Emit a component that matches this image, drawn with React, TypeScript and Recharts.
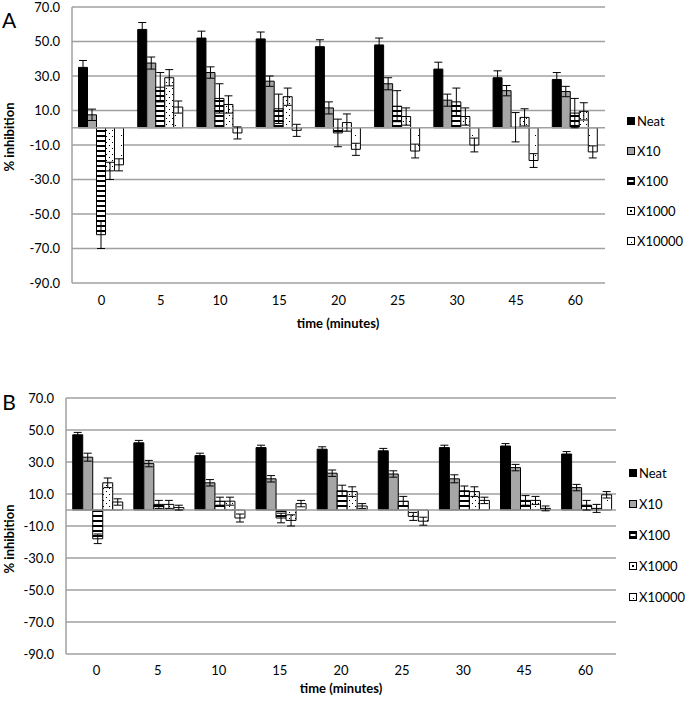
import React from 'react';
import { BarChart, Bar, XAxis, YAxis, CartesianGrid, ReferenceLine, ErrorBar } from 'recharts';

const times = ['0', '5', '10', '15', '20', '25', '30', '45', '60'];
const seriesNames = ['Neat', 'X10', 'X100', 'X1000', 'X10000'];
const yTicks = [-90, -70, -50, -30, -10, 10, 30, 50, 70];

// panel A values (% inhibition) and error
const neatA = [35, 57, 52, 51.5, 47, 48, 34, 29, 28];
const neatAErr = [4, 4, 4, 4, 4, 4, 4, 4, 4];
const x10A = [7.5, 37.5, 32, 27, 11.5, 25.5, 16, 21.5, 21];
const x10AErr = [3.3, 3.5, 3.3, 3, 3.5, 3.5, 3.5, 3, 3];
const x100A = [-62, 23.5, 17, 11, -3, 12.5, 15, 0.3, 8.5];
const x100AErr = [8, 8.5, 8.5, 8.5, 8, 9, 8, 8.5, 8.5];
const x1000A = [-25, 29, 13.5, 18, 3, 6.5, 6.5, 6, 9.5];
const x1000AErr = [5, 4.7, 5, 5, 5, 5, 5, 5, 5];
const x10000A = [-21.5, 12, -3, -1.5, -12.5, -13.5, -10, -19, -14];
const x10000AErr = [3.5, 3.5, 3.5, 3.5, 3.5, 4, 4, 4, 3.5];

// panel B
const neatB = [47, 42, 34, 39, 38, 37, 39, 40, 35];
const neatBErr = [1.5, 1.5, 1.5, 1.5, 1.5, 1.5, 1.5, 1.5, 1.5];
const x10B = [33, 29, 17, 19.5, 23, 22.5, 19.5, 26.5, 14];
const x10BErr = [2.5, 2, 2, 2, 2, 2, 2.5, 2, 2];
const x100B = [-18, 3.5, 5.5, -5, 12, 5.5, 12, 6, 3];
const x100BErr = [3, 2.5, 2.5, 3, 3.5, 3, 3, 3, 3];
const x1000B = [17, 3.5, 5.5, -6.5, 11.5, -4, 11.5, 6, 1];
const x1000BErr = [3, 2.5, 2.5, 3.5, 3, 2.5, 3, 2.5, 2.5];
const x10000B = [5, 1.5, -5, 4, 2.5, -7, 6, 1, 9.5];
const x10000BErr = [2, 1.5, 2.5, 2, 1.5, 2.5, 2, 1.5, 2];

const fills = ['#000', '#a6a6a6', 'url(#hstripe)', 'url(#dots)', 'url(#sparse)'];
const font = 'Lato, "Open Sans", sans-serif';

function buildRows(vals: number[][], errs: number[][]) {
  return times.map((t, i) => {
    const row: any = { time: t };
    seriesNames.forEach((name, s) => {
      row[name] = vals[s][i];
      row[name + 'Err'] = errs[s][i];
    });
    return row;
  });
}

const rowsA = buildRows([neatA, x10A, x100A, x1000A, x10000A], [neatAErr, x10AErr, x100AErr, x1000AErr, x10000AErr]);
const rowsB = buildRows([neatB, x10B, x100B, x1000B, x10000B], [neatBErr, x10BErr, x100BErr, x1000BErr, x10000BErr]);

const Patterns = () => (
  <svg width={0} height={0} style={{ position: 'absolute' }}>
    <defs>
      <pattern id="hstripe" width="6" height="5" patternUnits="userSpaceOnUse">
        <rect width="6" height="5" fill="#fff" />
        <rect width="6" height="2" fill="#000" />
      </pattern>
      <pattern id="dots" width="6" height="6" patternUnits="userSpaceOnUse">
        <rect width="6" height="6" fill="#fff" />
        <rect x="1" y="1" width="1" height="1" fill="#000" />
        <rect x="4" y="4" width="1" height="1" fill="#000" />
      </pattern>
      <pattern id="sparse" width="9" height="10" patternUnits="userSpaceOnUse">
        <rect width="9" height="10" fill="#fff" />
        <rect x="4" y="5" width="1" height="1" fill="#000" />
      </pattern>
    </defs>
  </svg>
);

const Swatch = ({ i }: { i: number }) => {
  if (i === 2) {
    return (
      <svg width={8} height={8} style={{ display: 'block' }}>
        <rect x={0.5} y={0.5} width={7} height={7} fill="#000" stroke="#000" />
        <rect x={1.5} y={3} width={5} height={2} fill="#fff" />
      </svg>
    );
  }
  return (
    <svg width={8} height={8} style={{ display: 'block' }}>
      <rect x={0.5} y={0.5} width={7} height={7} fill={i === 3 ? '#fff' : fills[i]} stroke="#000" />
      {i === 3 && <rect x={3} y={3} width={2} height={2} fill="#000" />}
    </svg>
  );
};

const Legend = ({ left, top, gap }: { left: number; top: number; gap: number }) => (
  <div style={{ position: 'absolute', left, top }}>
    {seriesNames.map((name, i) => (
      <div
        key={name}
        style={{ position: 'absolute', top: i * gap - 8, left: 0, display: 'flex', alignItems: 'center', height: 16, whiteSpace: 'nowrap' }}
      >
        <Swatch i={i} />
        <span style={{ marginLeft: 2, fontSize: 13, fontFamily: font, color: '#000' }}>{name}</span>
      </div>
    ))}
  </div>
);

const Txt = ({ x, y, children, size = 13, bold = false, rotate = false }: any) => (
  <div
    style={{
      position: 'absolute',
      left: x,
      top: y,
      transform: `translate(-50%, -50%)${rotate ? ' rotate(-90deg)' : ''}`,
      fontFamily: font,
      fontSize: size,
      fontWeight: bold ? 700 : 400,
      whiteSpace: 'nowrap',
      color: '#000',
    }}
  >
    {children}
  </div>
);

const Panel = ({ rows, height, margin, yWidth, tickMargin }: any) => (
  <BarChart width={685} height={height} data={rows} margin={margin} barCategoryGap="11%" barGap={0}>
    <CartesianGrid vertical={false} stroke="#a0a0a0" strokeWidth={1.5} />
    <XAxis
      dataKey="time"
      axisLine={false}
      tickLine={false}
      height={30}
      tickMargin={tickMargin}
      tick={{ fontSize: 13, fill: '#000', fontFamily: font }}
    />
    <YAxis
      width={yWidth}
      domain={[-90, 70]}
      ticks={yTicks}
      interval={0}
      tickLine={false}
      tickMargin={6}
      axisLine={{ stroke: '#a0a0a0', strokeWidth: 1.5 }}
      tickFormatter={(v: number) => v.toFixed(1)}
      tick={{ fontSize: 13, fill: '#000', fontFamily: font }}
    />
    <ReferenceLine y={0} stroke="#a0a0a0" strokeWidth={1.5} />
    {seriesNames.map((name, i) => (
      <Bar key={name} dataKey={name} fill={fills[i]} stroke="#000" strokeWidth={1} isAnimationActive={false}>
        <ErrorBar dataKey={name + 'Err'} direction="y" width={4} stroke="#000" strokeWidth={1} isAnimationActive={false} />
      </Bar>
    ))}
  </BarChart>
);

export default function App() {
  return (
    <div style={{ position: 'absolute', left: 0, top: 0, width: 685, height: 701, background: '#fff', overflow: 'hidden' }}>
      <Patterns />
      <div style={{ position: 'absolute', left: 0, top: 0 }}>
        <Panel rows={rowsA} height={340} margin={{ top: 7, right: 80, left: 0, bottom: 27 }} yWidth={72} tickMargin={7} />
      </div>
      <div style={{ position: 'absolute', left: 0, top: 385 }}>
        <Panel rows={rowsB} height={316} margin={{ top: 13, right: 69, left: 0, bottom: 17 }} yWidth={66} tickMargin={6} />
      </div>
      <Txt x={9} y={19} size={21}>A</Txt>
      <Txt x={9} y={401} size={21}>B</Txt>
      <Txt x={9} y={137} bold rotate>% inhibition</Txt>
      <Txt x={9} y={539} bold rotate>% inhibition</Txt>
      <Txt x={338} y={323} bold>time (minutes)</Txt>
      <Txt x={341} y={688} bold>time (minutes)</Txt>
      <Legend left={627} top={121} gap={30} />
      <Legend left={629} top={473} gap={31} />
    </div>
  );
}
